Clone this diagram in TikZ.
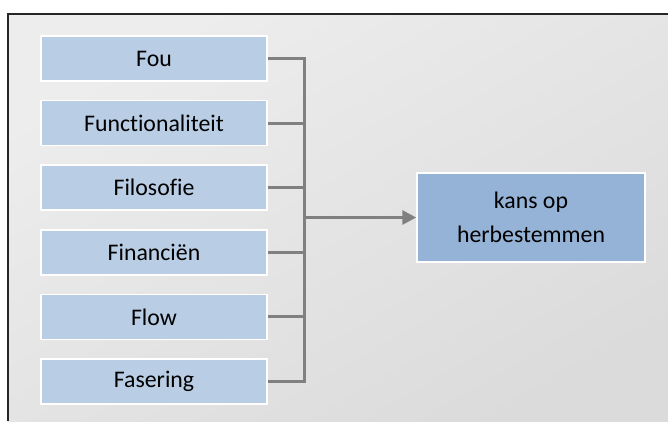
\documentclass[tikz,border=0pt]{standalone}
\usepackage{fontspec}
\setmainfont{Carlito}[Ligatures={NoCommon}]
\usetikzlibrary{arrows.meta}
\definecolor{srcblue}{HTML}{B9CDE5}
\definecolor{tgtblue}{HTML}{95B3D7}
\definecolor{conngray}{HTML}{808080}
\tikzset{
  srcbox/.style={draw=white, line width=1.5pt, fill=srcblue, minimum width=226pt, minimum height=45pt, inner sep=0pt, font=\fontsize{23.8}{28}\selectfont},
  tgtbox/.style={draw=white, line width=1.5pt, fill=tgtblue, minimum width=228pt, minimum height=89pt, inner sep=0pt, align=center, font=\fontsize{23.8}{34.5}\selectfont},
  conn/.style={draw=conngray, line width=3pt, line join=miter},
  arrowconn/.style={conn, -{Triangle[length=14pt,width=14pt]}}
}
\begin{document}
\begin{tikzpicture}[x=1pt,y=-1pt]
\useasboundingbox (0,0) rectangle (668,421);
\fill[white] (0,0) rectangle (668,421);
\shade[top color=white!93!black, bottom color=white!86!black, shading angle=30] (8,14) rectangle (668,421);
\draw[line width=2.8pt, black!85] (8,421) -- (8,14) -- (668,14);
\node[srcbox] (f1) at (154,58.5) {Fou};
\node[srcbox] (f2) at (154,123.1) {Functionaliteit};
\node[srcbox] (f3) at (154,187.7) {Filosofie};
\node[srcbox] (f4) at (154,252.3) {Financiën};
\node[srcbox] (f5) at (154,316.9) {Flow};
\node[srcbox] (f6) at (154,381.5) {Fasering};
\node[tgtbox] (t) at (531,217.5) {kans op\\herbestemmen};
\coordinate (bustop) at (304,58.5);
\coordinate (busbot) at (304,381.5);
\coordinate (busmid) at (304,217.5);
\draw[conn] (f1.east) -| (busbot) -- (f6.east);
\draw[conn] (f2.east) -- (f2.east -| bustop);
\draw[conn] (f3.east) -- (f3.east -| bustop);
\draw[conn] (f4.east) -- (f4.east -| bustop);
\draw[conn] (f5.east) -- (f5.east -| bustop);
\draw[arrowconn] (busmid) -- (t.west);
\end{tikzpicture}
\end{document}
